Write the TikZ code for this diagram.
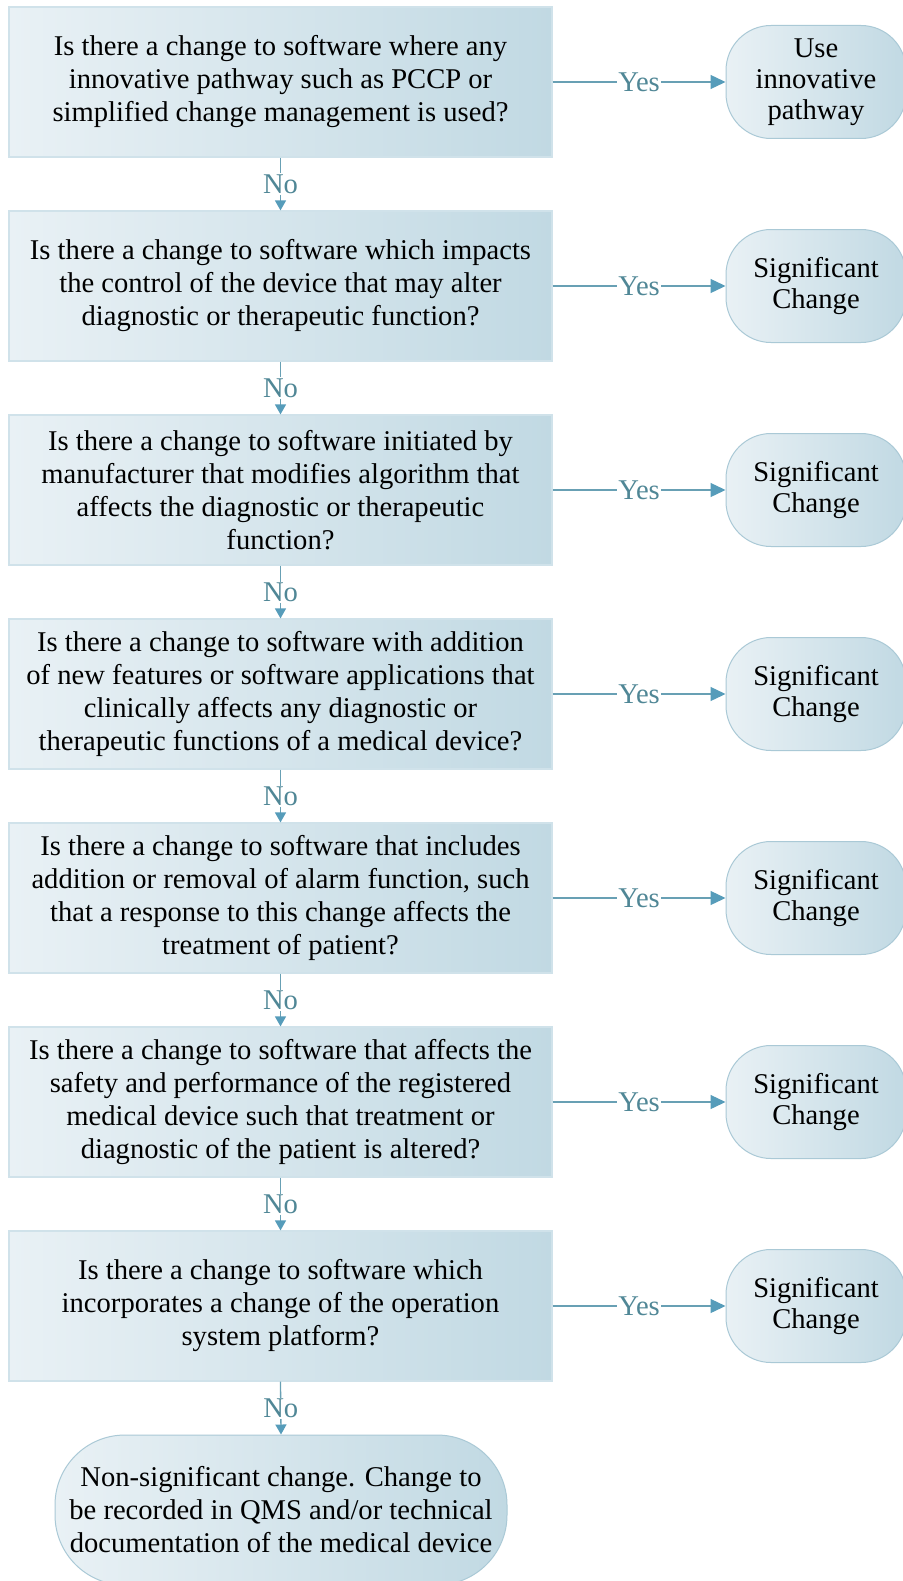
\documentclass[tikz,border=0pt]{standalone}
\usepackage{fontspec}
\setmainfont{Liberation Serif}
\usetikzlibrary{positioning, arrows.meta}

\definecolor{boxlight}{RGB}{233,241,245}
\definecolor{boxdark}{RGB}{193,217,227}
\definecolor{boxedge}{RGB}{208,226,234}
\definecolor{endedge}{RGB}{170,201,214}
\definecolor{linkcol}{RGB}{104,160,180}
\definecolor{tipcol}{RGB}{86,156,186}
\definecolor{labelcol}{RGB}{80,135,150}

\tikzset{
    question/.style={rectangle, draw=boxedge, line width=1.2pt,
        left color=boxlight, right color=boxdark,
        minimum width=543pt, minimum height=150pt, inner sep=0pt,
        align=center, font=\fontsize{28.6}{33}\selectfont},
    outcome/.style={rectangle, rounded corners=45pt, draw=endedge, line width=1pt,
        left color=boxlight, right color=boxdark,
        minimum width=180pt, minimum height=113pt, inner sep=0pt,
        align=center, font=\fontsize{28.6}{31}\selectfont},
    finish/.style={outcome, rounded corners=70pt,
        minimum width=452pt, minimum height=150pt,
        font=\fontsize{28.6}{33}\selectfont},
    yeslink/.style={draw=linkcol, line width=1.3pt,
        -{Triangle[length=15pt, width=14pt, color=tipcol]}},
    nolink/.style={draw=linkcol, line width=1.3pt,
        -{Triangle[length=10pt, width=11pt, color=tipcol]}},
    answer/.style={fill=white, text=labelcol, inner sep=1pt,
        font=\fontsize{28.6}{30}\selectfont}
}

\begin{document}
\begin{tikzpicture}[x=1pt, y=1pt]
    \def\pitch{204}
    \useasboundingbox[fill=white] (0,0) rectangle (902,-1581);

    % questions, one per row
    \foreach \i/\txt in {
        1/{Is there a change to software where any\\innovative pathway such as PCCP or\\simplified change management is used?},
        2/{Is there a change to software which impacts\\the control of the device that may alter\\diagnostic or therapeutic function?},
        3/{Is there a change to software initiated by\\manufacturer that modifies algorithm that\\affects the diagnostic or therapeutic\\function?},
        4/{Is there a change to software with addition\\of new features or software applications that\\clinically affects any diagnostic or\\therapeutic functions of a medical device?},
        5/{Is there a change to software that includes\\addition or removal of alarm function, such\\that a response to this change affects the\\treatment of patient?},
        6/{Is there a change to software that affects the\\safety and performance of the registered\\medical device such that treatment or\\diagnostic of the patient is altered?},
        7/{Is there a change to software which\\incorporates a change of the operation\\system platform?}}
    {
        \node[question] (q\i) at (280.5, {-82-(\i-1)*\pitch}) {\txt};
    }

    % outcomes on the right
    \node[outcome] (t1) at (816, -82) {Use\\innovative\\pathway};
    \foreach \i in {2,...,7}
    {
        \node[outcome] (t\i) at (816, {-82-(\i-1)*\pitch}) {Significant\\Change};
    }

    % last outcome
    \node[finish] (end) at (281, -1510)
        {Non-significant change. Change to\\be recorded in QMS and/or technical\\documentation of the medical device};

    % yes links
    \foreach \i in {1,...,7}
    {
        \draw[yeslink] (q\i.east) -- node[answer] {Yes} (t\i.west);
    }

    % no links
    \foreach \i [count=\j from 2] in {1,...,6}
    {
        \draw[nolink] (q\i.south) -- node[answer] {No} (q\j.north);
    }
    \draw[nolink] (q7.south) -- node[answer] {No} (end.north);
\end{tikzpicture}
\end{document}
